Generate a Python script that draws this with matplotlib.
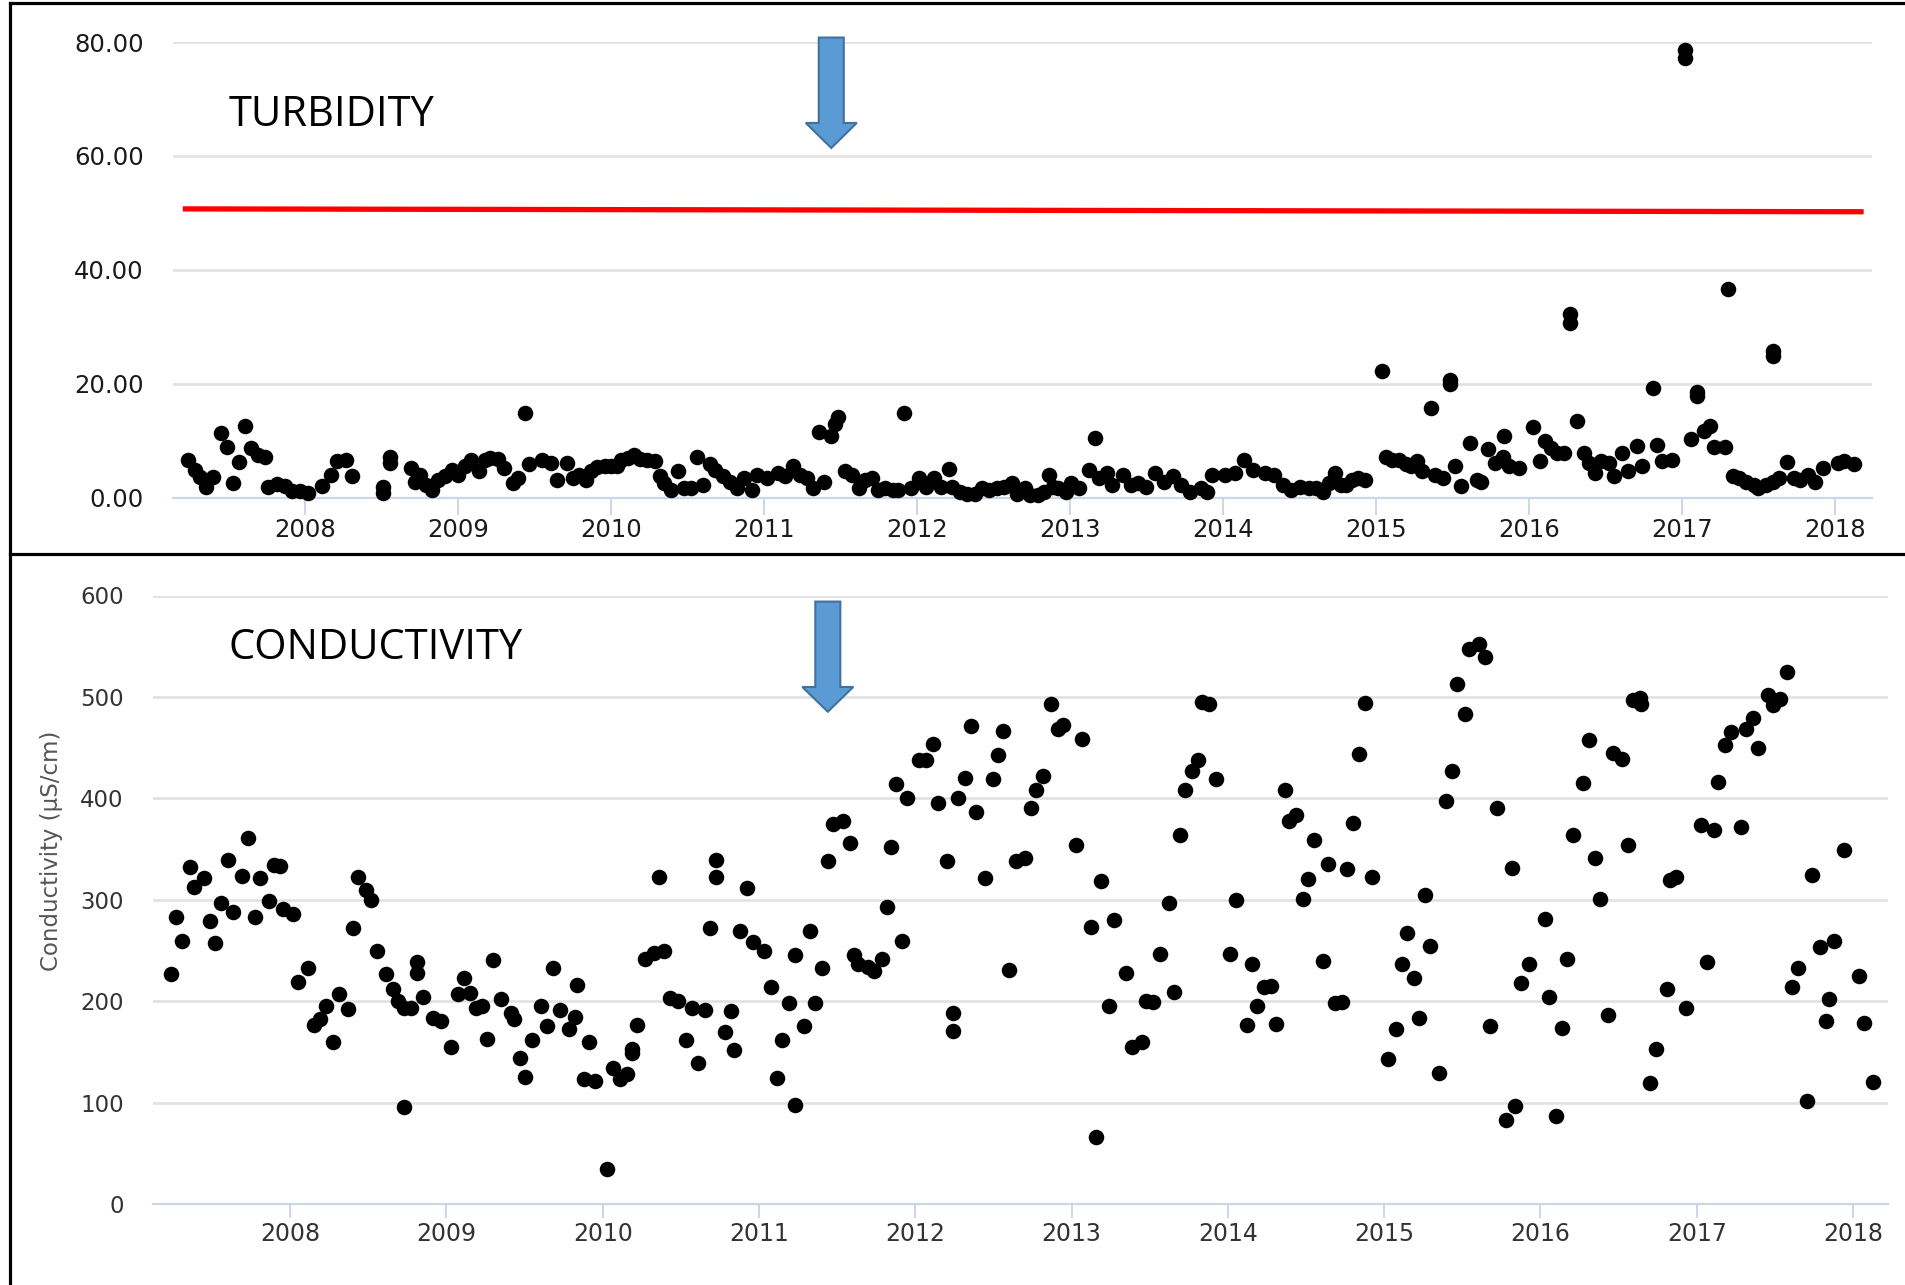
import numpy as np
import matplotlib
matplotlib.use('Agg')
import matplotlib.pyplot as plt
from matplotlib.patches import Polygon
from matplotlib.lines import Line2D
from matplotlib.transforms import IdentityTransform

# ---- data (decimal year, value) ----
turb_t = [2007.233, 2007.281, 2007.312, 2007.353, 2007.397, 2007.450, 2007.486, 2007.530, 2007.566, 2007.607,
          2007.643, 2007.691, 2007.739, 2007.759, 2007.819, 2007.865, 2007.913, 2007.964, 2008.017, 2008.109,
          2008.166, 2008.205, 2008.270, 2008.306, 2008.511, 2008.512, 2008.552, 2008.553, 2008.692, 2008.716,
          2008.748, 2008.789, 2008.832, 2008.866, 2008.914, 2008.958, 2009.001, 2009.042, 2009.086, 2009.139,
          2009.175, 2009.206, 2009.259, 2009.300, 2009.356, 2009.392, 2009.435, 2009.465, 2009.549, 2009.609,
          2009.645, 2009.713, 2009.754, 2009.790, 2009.838, 2009.870, 2009.911, 2009.960, 2010.000, 2010.039,
          2010.068, 2010.111, 2010.152, 2010.188, 2010.236, 2010.285, 2010.321, 2010.345, 2010.393, 2010.441,
          2010.478, 2010.526, 2010.562, 2010.603, 2010.646, 2010.683, 2010.731, 2010.779, 2010.823, 2010.871,
          2010.920, 2010.956, 2011.017, 2011.090, 2011.138, 2011.187, 2011.236, 2011.284, 2011.321, 2011.357,
          2011.394, 2011.435, 2011.466, 2011.483, 2011.532, 2011.576, 2011.624, 2011.661, 2011.709, 2011.746,
          2011.794, 2011.843, 2011.879, 2011.916, 2011.964, 2012.013, 2012.061, 2012.110, 2012.158, 2012.207,
          2012.231, 2012.280, 2012.328, 2012.377, 2012.426, 2012.474, 2012.523, 2012.572, 2012.620, 2012.656,
          2012.705, 2012.742, 2012.790, 2012.834, 2012.863, 2012.887, 2012.924, 2012.972, 2013.009, 2013.057,
          2013.125, 2013.167, 2013.191, 2013.240, 2013.276, 2013.349, 2013.397, 2013.446, 2013.495, 2013.556,
          2013.616, 2013.677, 2013.725, 2013.786, 2013.859, 2013.895, 2013.932, 2014.017, 2014.078, 2014.139,
          2014.200, 2014.273, 2014.333, 2014.394, 2014.443, 2014.504, 2014.564, 2014.607, 2014.657, 2014.694,
          2014.732, 2014.770, 2014.807, 2014.845, 2014.882, 2014.927, 2015.038, 2015.070, 2015.108, 2015.153,
          2015.195, 2015.233, 2015.270, 2015.303, 2015.363, 2015.388, 2015.438, 2015.483, 2015.485, 2015.521,
          2015.558, 2015.614, 2015.659, 2015.689, 2015.734, 2015.779, 2015.829, 2015.839, 2015.872, 2015.934,
          2016.027, 2016.072, 2016.109, 2016.147, 2016.185, 2016.230, 2016.270, 2016.272, 2016.315, 2016.360,
          2016.397, 2016.435, 2016.472, 2016.523, 2016.560, 2016.610, 2016.648, 2016.706, 2016.743, 2016.811,
          2016.836, 2016.873, 2016.936, 2017.020, 2017.022, 2017.061, 2017.099, 2017.101, 2017.149, 2017.186,
          2017.211, 2017.282, 2017.305, 2017.337, 2017.374, 2017.424, 2017.474, 2017.499, 2017.550, 2017.595,
          2017.597, 2017.600, 2017.637, 2017.692, 2017.737, 2017.775, 2017.825, 2017.875, 2017.925, 2018.025,
          2018.063, 2018.125]
turb_v = [6.5, 4.9, 3.6, 1.9, 3.6, 11.3, 8.9, 2.6, 6.2, 12.6,
          8.7, 7.5, 7.2, 1.8, 2.4, 2.0, 1.2, 1.1, 0.8, 2.0,
          3.9, 6.4, 6.5, 3.7, 0.8, 1.9, 7.2, 6.0, 5.2, 2.8,
          4.0, 2.2, 1.3, 3.1, 3.7, 4.9, 4.0, 5.5, 6.6, 4.6,
          6.6, 6.9, 6.8, 5.2, 2.5, 3.4, 14.8, 5.8, 6.6, 6.1,
          3.1, 6.1, 3.4, 4.0, 3.1, 4.6, 5.3, 5.5, 5.6, 5.5,
          6.6, 6.9, 7.5, 6.8, 6.6, 6.4, 3.8, 2.5, 1.3, 4.7,
          1.6, 1.6, 7.1, 2.2, 5.8, 4.9, 3.7, 2.8, 1.6, 3.4,
          1.3, 4.0, 3.4, 4.3, 3.7, 5.6, 4.0, 3.4, 1.6, 11.5,
          2.8, 10.8, 12.9, 14.1, 4.6, 4.0, 1.6, 3.1, 3.4, 1.3,
          1.6, 1.3, 1.3, 14.8, 1.6, 3.4, 1.9, 3.4, 1.9, 5.0,
          1.9, 1.0, 0.7, 0.7, 1.6, 1.3, 1.6, 1.9, 2.5, 0.7,
          1.6, 0.4, 0.4, 1.0, 4.0, 1.9, 1.6, 1.0, 2.5, 1.6,
          4.9, 10.4, 3.4, 4.3, 2.2, 4.0, 2.2, 2.5, 1.9, 4.3,
          2.8, 3.7, 2.2, 1.0, 1.6, 1.0, 4.0, 4.0, 4.3, 6.5,
          4.9, 4.3, 4.0, 2.2, 1.3, 1.9, 1.6, 1.6, 1.0, 2.5,
          4.3, 2.2, 2.2, 3.1, 3.4, 3.1, 22.2, 7.2, 6.6, 6.6,
          5.8, 5.5, 6.4, 4.6, 15.7, 4.0, 3.4, 20.6, 19.9, 5.5,
          2.0, 9.6, 3.0, 2.8, 8.5, 6.1, 7.2, 10.8, 5.5, 5.2,
          12.3, 6.4, 9.9, 8.7, 7.8, 7.8, 32.3, 30.6, 13.5, 7.8,
          6.1, 4.3, 6.4, 6.1, 3.7, 7.8, 4.6, 9.1, 5.6, 19.2,
          9.3, 6.4, 6.6, 78.6, 77.2, 10.2, 18.5, 17.9, 11.7, 12.6,
          8.9, 8.9, 36.7, 3.7, 3.4, 2.8, 2.2, 1.6, 2.2, 25.7,
          24.8, 2.8, 3.4, 6.2, 3.4, 3.1, 4.0, 2.8, 5.2, 6.1,
          6.4, 5.8]

cond_t = [2007.238, 2007.272, 2007.309, 2007.357, 2007.387, 2007.447, 2007.485, 2007.517, 2007.557, 2007.600,
          2007.634, 2007.691, 2007.728, 2007.774, 2007.809, 2007.866, 2007.898, 2007.932, 2007.957, 2008.021,
          2008.053, 2008.111, 2008.153, 2008.191, 2008.230, 2008.272, 2008.309, 2008.368, 2008.400, 2008.436,
          2008.485, 2008.515, 2008.553, 2008.611, 2008.660, 2008.691, 2008.728, 2008.729, 2008.770, 2008.809,
          2008.810, 2008.847, 2008.911, 2008.964, 2009.032, 2009.074, 2009.111, 2009.149, 2009.187, 2009.230,
          2009.260, 2009.298, 2009.351, 2009.413, 2009.434, 2009.471, 2009.505, 2009.548, 2009.606, 2009.645,
          2009.682, 2009.725, 2009.783, 2009.822, 2009.832, 2009.880, 2009.914, 2009.951, 2010.030, 2010.065,
          2010.112, 2010.155, 2010.187, 2010.190, 2010.219, 2010.273, 2010.327, 2010.359, 2010.391, 2010.430,
          2010.484, 2010.535, 2010.568, 2010.611, 2010.654, 2010.688, 2010.725, 2010.726, 2010.783, 2010.822,
          2010.839, 2010.875, 2010.925, 2010.961, 2011.032, 2011.075, 2011.112, 2011.150, 2011.194, 2011.230,
          2011.231, 2011.290, 2011.323, 2011.355, 2011.406, 2011.441, 2011.473, 2011.538, 2011.585, 2011.606,
          2011.634, 2011.696, 2011.738, 2011.785, 2011.819, 2011.845, 2011.877, 2011.913, 2011.947, 2012.026,
          2012.068, 2012.111, 2012.147, 2012.202, 2012.238, 2012.239, 2012.270, 2012.319, 2012.355, 2012.391,
          2012.447, 2012.494, 2012.526, 2012.564, 2012.600, 2012.643, 2012.700, 2012.738, 2012.774, 2012.819,
          2012.866, 2012.913, 2012.947, 2013.030, 2013.064, 2013.121, 2013.157, 2013.191, 2013.238, 2013.270,
          2013.351, 2013.387, 2013.451, 2013.479, 2013.521, 2013.564, 2013.621, 2013.653, 2013.691, 2013.728,
          2013.770, 2013.806, 2013.834, 2013.877, 2013.923, 2014.015, 2014.051, 2014.121, 2014.153, 2014.189,
          2014.228, 2014.274, 2014.309, 2014.366, 2014.394, 2014.436, 2014.479, 2014.515, 2014.551, 2014.606,
          2014.643, 2014.685, 2014.728, 2014.760, 2014.802, 2014.840, 2014.877, 2014.919, 2015.026, 2015.074,
          2015.111, 2015.143, 2015.189, 2015.223, 2015.260, 2015.291, 2015.351, 2015.398, 2015.434, 2015.466,
          2015.515, 2015.543, 2015.606, 2015.643, 2015.679, 2015.723, 2015.781, 2015.817, 2015.840, 2015.877,
          2015.930, 2016.026, 2016.057, 2016.100, 2016.136, 2016.173, 2016.207, 2016.270, 2016.313, 2016.346,
          2016.384, 2016.432, 2016.467, 2016.525, 2016.562, 2016.590, 2016.639, 2016.644, 2016.702, 2016.741,
          2016.810, 2016.827, 2016.870, 2016.929, 2017.028, 2017.069, 2017.108, 2017.136, 2017.184, 2017.220,
          2017.281, 2017.313, 2017.361, 2017.395, 2017.454, 2017.490, 2017.533, 2017.577, 2017.609, 2017.648,
          2017.706, 2017.739, 2017.788, 2017.825, 2017.849, 2017.879, 2017.940, 2018.037, 2018.069, 2018.130]
cond_v = [226.6, 283.4, 259.7, 332.4, 312.4, 321.6, 278.8, 257.3, 296.7, 339.4,
          288.0, 323.2, 361.0, 283.4, 321.6, 299.2, 334.0, 332.8, 290.5, 286.3,
          219.0, 232.8, 176.3, 182.6, 195.0, 159.8, 207.5, 192.5, 272.6, 322.4,
          309.5, 300.0, 249.8, 226.6, 212.0, 200.4, 193.0, 95.9, 193.0, 238.6,
          227.4, 204.6, 183.8, 180.5, 154.8, 207.5, 223.2, 208.3, 193.0, 195.0,
          163.1, 241.0, 202.5, 188.0, 182.6, 144.4, 124.9, 161.8, 195.4, 175.5,
          232.8, 190.9, 172.2, 184.6, 215.8, 122.8, 159.8, 121.6, 34.4, 134.0,
          123.7, 128.6, 148.5, 152.7, 176.3, 241.9, 247.3, 322.8, 249.4, 203.3,
          200.4, 161.8, 193.0, 139.4, 190.9, 271.8, 339.4, 322.8, 169.3, 190.0,
          151.5, 268.9, 311.6, 258.5, 249.4, 214.1, 124.5, 161.8, 198.3, 245.2,
          97.5, 175.5, 268.9, 198.3, 232.4, 338.2, 374.7, 377.6, 356.0, 245.2,
          237.0, 233.6, 229.5, 241.9, 292.9, 351.9, 414.1, 259.7, 400.4, 437.8,
          437.8, 453.5, 395.4, 338.2, 188.0, 170.1, 400.4, 420.3, 471.4, 386.3,
          321.6, 419.1, 442.3, 466.8, 230.7, 338.6, 341.5, 390.0, 408.7, 422.4,
          492.9, 468.0, 472.2, 354.0, 458.9, 273.0, 65.6, 318.7, 195.4, 280.5,
          227.4, 154.8, 160.2, 200.4, 199.2, 246.9, 296.7, 208.7, 363.5, 407.9,
          426.6, 437.8, 495.0, 492.9, 419.5, 246.9, 300.0, 176.8, 236.9, 195.4,
          214.1, 214.9, 177.6, 407.9, 378.0, 383.8, 301.2, 320.7, 358.9, 239.8,
          335.3, 198.3, 199.2, 329.9, 375.5, 444.0, 493.8, 322.8, 143.2, 172.2,
          236.5, 267.6, 223.2, 183.8, 305.0, 254.4, 129.0, 397.5, 426.6, 512.4,
          483.4, 546.9, 552.3, 539.8, 175.5, 390.0, 83.0, 331.1, 96.7, 217.8,
          236.9, 281.3, 204.6, 87.1, 173.4, 241.9, 363.5, 415.0, 457.7, 341.5,
          300.8, 185.9, 444.4, 439.0, 354.0, 497.1, 499.2, 493.0, 119.5, 152.7,
          212.0, 319.9, 322.8, 193.4, 373.4, 238.6, 368.5, 416.2, 452.3, 465.1,
          371.4, 468.0, 479.3, 449.4, 502.1, 492.1, 497.9, 524.1, 214.1, 232.8,
          101.7, 324.1, 253.1, 180.5, 202.5, 259.8, 349.0, 224.5, 178.8, 120.7]

limit_t = [2007.20, 2018.19]      # red guide line in the turbidity panel
limit_v = [50.7, 50.2]
arrow_t = 2011.44                 # date marked by the blue arrows
years = list(range(2008, 2019))

W, H = 1906, 1285
fig = plt.figure(figsize=(W / 100, H / 100), dpi=100)
fig.patch.set_facecolor('white')


def px_axes(l, t, r, b):
    return fig.add_axes([l / W, 1 - b / H, (r - l) / W, (b - t) / H])


def style(ax, xlim, ylim, yticks, ylabels, fs_y, fs_x, col, xpad, xlen):
    ax.set_xlim(xlim)
    ax.set_ylim(ylim)
    for s in ['top', 'right', 'left']:
        ax.spines[s].set_visible(False)
    ax.spines['bottom'].set_color('#ccd6eb')
    ax.spines['bottom'].set_linewidth(1.6)
    ax.set_yticks(yticks)
    ax.set_yticklabels(ylabels, fontsize=fs_y, color=col)
    ax.tick_params(axis='y', length=0, pad=21)
    ax.yaxis.grid(True, color='#e0e0e0', lw=1.8)
    ax.set_axisbelow(True)
    ax.set_xticks(years)
    ax.set_xticklabels([str(y) for y in years], fontsize=fs_x, color=col)
    ax.tick_params(axis='x', length=xlen, width=1.4, color='#ccd6eb', pad=xpad)


def down_arrow(ax, t, y_top, y_base, y_tip, sw=12.5, hw=25.5):
    x0, yt = ax.transData.transform((t, y_top))
    _, yb = ax.transData.transform((t, y_base))
    _, yp = ax.transData.transform((t, y_tip))
    pts = [(x0 - sw, yt), (x0 + sw, yt), (x0 + sw, yb), (x0 + hw, yb),
           (x0, yp), (x0 - hw, yb), (x0 - sw, yb)]
    fig.add_artist(Polygon(pts, closed=True, fc='#5b9bd5', ec='#41719c', lw=1.5,
                           transform=IdentityTransform(), zorder=5))


# top: turbidity
ax1 = px_axes(172.7, 42.1, 1871.6, 497.5)
style(ax1, (2007.134, 2018.242), (0, 80), [0, 20, 40, 60, 80],
      ['0.00', '20.00', '40.00', '60.00', '80.00'], 17.5, 17.5, '#1a1a1a', 3, 12)
ax1.plot(limit_t, limit_v, color='#ff0000', lw=3.8, solid_capstyle='butt', zorder=2)
ax1.scatter(turb_t, turb_v, s=125, c='black', linewidths=0, zorder=3, clip_on=False)

# bottom: conductivity
ax2 = px_axes(153, 595.5, 1888, 1204)
style(ax2, (2007.122, 2018.224), (0, 600), [0, 100, 200, 300, 400, 500, 600],
      ['0', '100', '200', '300', '400', '500', '600'], 16.5, 17, '#333333', 2.8, 10)
ax2.scatter(cond_t, cond_v, s=125, c='black', linewidths=0, zorder=3, clip_on=False)
ax2.set_ylabel('Conductivity (µS/cm)', fontsize=16.5, color='#555555')
ax2.yaxis.set_label_coords(52 / W, 1 - 851 / H, transform=fig.transFigure)
ax2.yaxis.label.set_va('center')

fig.text(229 / W, 1 - 114.5 / H, 'TURBIDITY', fontsize=30, family='Open Sans',
         va='center', ha='left')
fig.text(229 / W, 1 - 648 / H, 'CONDUCTIVITY', fontsize=30, family='Open Sans',
         va='center', ha='left')

down_arrow(ax1, arrow_t, 80.8, 65.8, 61.4)
down_arrow(ax2, arrow_t, 594, 509.8, 485.4)

# panel borders of the composite image
for (x0, y0, x1, y1) in [(10, 3, 10, H), (10, 3, W, 3), (10, 554, W, 554)]:
    fig.add_artist(Line2D([x0 / W, x1 / W], [1 - y0 / H, 1 - y1 / H], color='black',
                          lw=2.3, transform=fig.transFigure))

fig.savefig('out.png', dpi=100)
